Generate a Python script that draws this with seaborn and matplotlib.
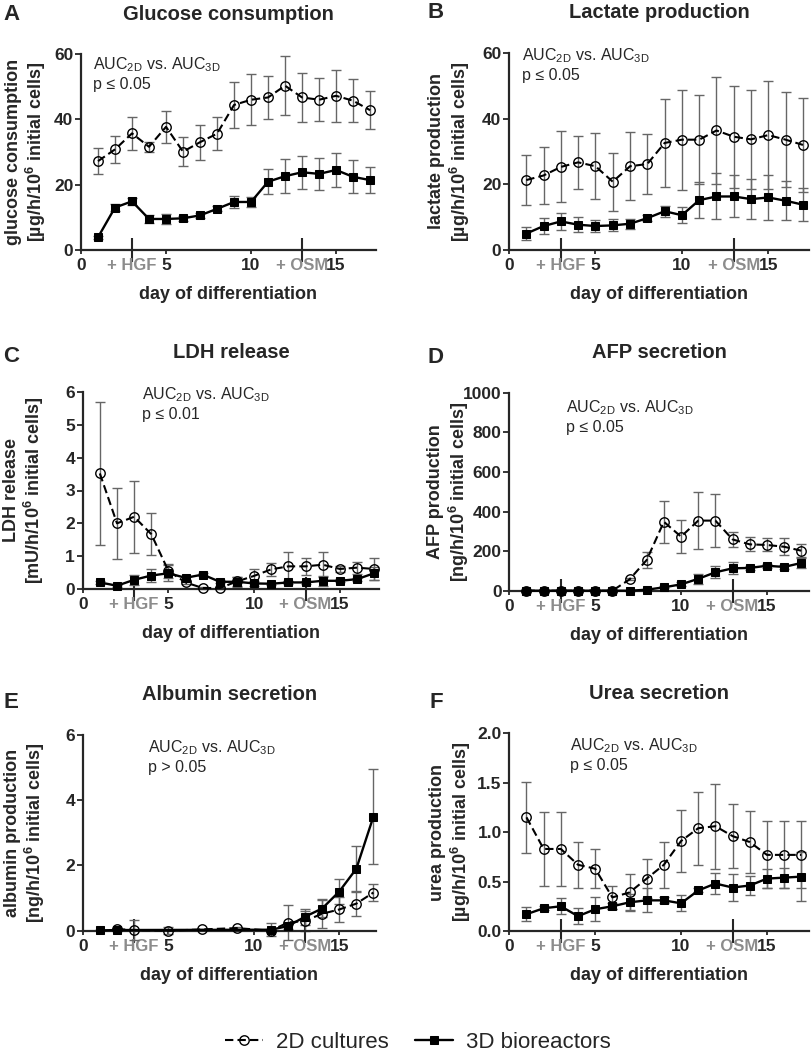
# six-panel metabolic time course (2D cultures vs 3D bioreactors)
import numpy as np
import pandas as pd
import matplotlib
matplotlib.use("Agg")
import matplotlib.pyplot as plt
from matplotlib.ticker import FormatStrFormatter
import seaborn as sns

days = list(range(1, 18))

glucose_2d = [27.2, 30.8, 35.7, 31.6, 37.7, 30.1, 33.0, 35.6, 44.4, 46.0, 46.7, 50.3, 46.7, 46.0, 47.2, 45.7, 42.8]
glucose_2d_sd = [4.0, 4.2, 5.0, 1.6, 5.0, 4.4, 5.4, 5.0, 7.0, 7.8, 6.7, 9.0, 7.5, 6.5, 8.0, 6.5, 5.9]
glucose_3d = [3.9, 13.0, 14.9, 9.5, 9.5, 9.7, 10.6, 12.6, 14.7, 14.7, 20.9, 22.6, 23.8, 23.3, 24.5, 22.4, 21.4]
glucose_3d_sd = [0.5, 1.0, 1.0, 1.3, 1.5, 0.8, 0.8, 0.8, 1.8, 1.5, 3.8, 5.2, 5.0, 4.8, 5.2, 5.0, 4.0]

lactate_2d = [21.3, 22.7, 25.3, 26.7, 25.5, 20.8, 25.5, 26.2, 32.6, 33.6, 33.6, 36.4, 34.5, 33.7, 35.0, 33.6, 32.0]
lactate_2d_sd = [7.6, 8.6, 10.8, 8.0, 10.0, 8.8, 10.3, 9.0, 13.4, 15.2, 13.6, 16.3, 15.5, 15.0, 16.5, 14.5, 14.3]
lactate_3d = [5.0, 7.3, 8.7, 7.7, 7.3, 7.5, 8.0, 9.7, 11.8, 10.6, 15.2, 16.3, 16.3, 15.5, 16.0, 15.0, 13.8]
lactate_3d_sd = [2.0, 2.3, 2.6, 2.2, 1.8, 1.8, 1.5, 1.0, 1.7, 2.5, 5.4, 7.0, 6.4, 6.2, 6.9, 6.0, 5.0]

ldh_2d = [3.52, 2.0, 2.2, 1.67, 0.55, 0.2, 0.03, 0.03, 0.23, 0.4, 0.6, 0.69, 0.69, 0.74, 0.61, 0.65, 0.61]
ldh_2d_sd = [2.17, 1.09, 1.1, 0.63, 0.2, 0.05, 0.02, 0.02, 0.15, 0.22, 0.2, 0.45, 0.25, 0.38, 0.1, 0.18, 0.33]
ldh_3d = [0.2, 0.1, 0.28, 0.41, 0.48, 0.34, 0.44, 0.22, 0.22, 0.17, 0.16, 0.2, 0.2, 0.25, 0.25, 0.3, 0.48]
ldh_3d_sd = [0.05, 0.03, 0.15, 0.2, 0.25, 0.07, 0.05, 0.05, 0.15, 0.08, 0.03, 0.05, 0.05, 0.15, 0.05, 0.05, 0.2]

afp_2d = [0, 0, 0, 0, 0, 0, 57, 155, 348, 273, 354, 354, 259, 234, 231, 222, 202]
afp_2d_sd = [0, 0, 0, 0, 0, 0, 5, 40, 107, 82, 143, 133, 39, 35, 33, 42, 34]
afp_3d = [0, 0, 0, 0, 0, 0, 0, 5, 17, 32, 60, 93, 113, 115, 126, 120, 140]
afp_3d_sd = [0, 0, 0, 0, 0, 0, 0, 2, 5, 10, 25, 30, 30, 12, 10, 8, 25]

albumin_2d_days = [2, 3, 5, 7, 9, 11, 12, 13, 14, 15, 16, 17]
albumin_2d = [0.05, 0.02, 0.0, 0.04, 0.08, 0.0, 0.25, 0.3, 0.52, 0.65, 0.83, 1.17]
albumin_2d_sd = [0.02, 0.3, 0.1, 0.02, 0.02, 0.0, 0.55, 0.3, 0.45, 0.38, 0.38, 0.25]
albumin_3d_days = [1, 2, 11, 12, 13, 14, 15, 16, 17]
albumin_3d = [0.01, 0.02, 0.03, 0.14, 0.43, 0.68, 1.2, 1.9, 3.5]
albumin_3d_sd = [0.0, 0.0, 0.2, 0.1, 0.25, 0.26, 0.37, 0.7, 1.47]

urea_2d = [1.15, 0.83, 0.83, 0.67, 0.63, 0.34, 0.39, 0.53, 0.67, 0.91, 1.04, 1.06, 0.96, 0.9, 0.77, 0.77, 0.77]
urea_2d_sd = [0.36, 0.37, 0.37, 0.23, 0.2, 0.12, 0.19, 0.2, 0.23, 0.31, 0.37, 0.43, 0.32, 0.31, 0.34, 0.34, 0.34]
urea_3d = [0.17, 0.23, 0.25, 0.15, 0.22, 0.25, 0.29, 0.31, 0.31, 0.28, 0.41, 0.48, 0.44, 0.46, 0.53, 0.54, 0.55]
urea_3d_sd = [0.07, 0.02, 0.08, 0.08, 0.12, 0.03, 0.08, 0.12, 0.03, 0.08, 0.02, 0.11, 0.14, 0.1, 0.1, 0.1, 0.25]

letters = ["A", "B", "C", "D", "E", "F"]
titles = ["Glucose consumption", "Lactate production", "LDH release",
          "AFP secretion", "Albumin secretion", "Urea secretion"]
ylabels = ["glucose consumption\n[µg/h/10$^{\\mathregular{6}}$ initial cells]",
           "lactate production\n[µg/h/10$^{\\mathregular{6}}$ initial cells]",
           "LDH release\n[mU/h/10$^{\\mathregular{6}}$ initial cells]",
           "AFP production\n[ng/h/10$^{\\mathregular{6}}$ initial cells]",
           "albumin production\n[ng/h/10$^{\\mathregular{6}}$ initial cells]",
           "urea production\n[µg/h/10$^{\\mathregular{6}}$ initial cells]"]
yticks = [[0, 20, 40, 60], [0, 20, 40, 60], [0, 1, 2, 3, 4, 5, 6],
          [0, 200, 400, 600, 800, 1000], [0, 2, 4, 6], [0.0, 0.5, 1.0, 1.5, 2.0]]
pvalues = ["p ≤ 0.05", "p ≤ 0.05", "p ≤ 0.01", "p ≤ 0.05", "p > 0.05", "p ≤ 0.05"]
xtick_days = [0, 5, 10, 15]
factor_days = [3, 13]
factor_labels = ["+ HGF", "+ OSM"]
legend_labels = ["2D cultures", "3D bioreactors"]

series = [
    (days, glucose_2d, glucose_2d_sd, days, glucose_3d, glucose_3d_sd),
    (days, lactate_2d, lactate_2d_sd, days, lactate_3d, lactate_3d_sd),
    (days, ldh_2d, ldh_2d_sd, days, ldh_3d, ldh_3d_sd),
    (days, afp_2d, afp_2d_sd, days, afp_3d, afp_3d_sd),
    (albumin_2d_days, albumin_2d, albumin_2d_sd, albumin_3d_days, albumin_3d, albumin_3d_sd),
    (days, urea_2d, urea_2d_sd, days, urea_3d, urea_3d_sd),
]

# layout in pixels: left, top, right, bottom of each plot area
W, H = 812, 1057
boxes = [(81, 54, 376, 250), (509, 53, 809, 250),
         (82.7, 392, 379.3, 589), (509.3, 392.7, 809, 590.7),
         (82.7, 735, 376, 930.7), (509.3, 733.3, 809, 931)]
xmax = [17.35, 17.35, 17.3, 17.45, 17.15, 17.45]
ylab_x = [-0.185, -0.198, -0.196, -0.202, -0.195, -0.195]
ann_xy = [(0.04, 0.995), (0.043, 1.032), (0.199, 1.035),
          (0.189, 0.972), (0.224, 0.983), (0.202, 0.983)]
letter_xy = [(11, 14), (436, 13), (11, 357), (436, 358), (11, 703), (436, 702)]

sns.set_style("ticks")
plt.rcParams["font.family"] = ["Liberation Sans", "DejaVu Sans"]
plt.rcParams["mathtext.default"] = "regular"

ERR = "#666666"

fig = plt.figure(figsize=(W / 100, H / 100), dpi=100)
handles = []

for i in range(6):
    l, t, r, b = boxes[i]
    ax = fig.add_axes([l / W, 1 - b / H, (r - l) / W, (b - t) / H])
    d2, v2, s2, d3, v3, s3 = series[i]

    ax.errorbar(d2, v2, yerr=s2, fmt="none", ecolor=ERR, elinewidth=1.0,
                capsize=3.5, capthick=1.0, zorder=2, clip_on=False)
    ax.errorbar(d3, v3, yerr=s3, fmt="none", ecolor=ERR, elinewidth=1.0,
                capsize=3.5, capthick=1.0, zorder=2, clip_on=False)

    df3 = pd.DataFrame({"day": d3, "value": v3})
    sns.lineplot(data=df3, x="day", y="value", ax=ax, color="black",
                 marker="s", markersize=6.2, markerfacecolor="black",
                 markeredgecolor="black", linewidth=1.7, errorbar=None,
                 clip_on=False, zorder=3)
    line3 = ax.lines[-1]
    df2 = pd.DataFrame({"day": d2, "value": v2})
    sns.lineplot(data=df2, x="day", y="value", ax=ax, color="black",
                 marker="o", markersize=6.8, markerfacecolor="none",
                 markeredgecolor="black", markeredgewidth=1.0,
                 linewidth=1.5, linestyle=(0, (4, 2)), errorbar=None,
                 clip_on=False, zorder=4)
    line2 = ax.lines[-1]
    if i == 0:
        handles = [line2, line3]

    ax.set_xlim(0, xmax[i])
    ax.set_ylim(yticks[i][0], yticks[i][-1])
    ax.set_yticks(yticks[i])
    if i == 5:
        ax.yaxis.set_major_formatter(FormatStrFormatter("%.1f"))
    ax.set_xticks(xtick_days)
    ax.set_xticks(factor_days, labels=factor_labels, minor=True)
    ax.tick_params(axis="x", which="major", direction="out", length=3, width=1.3,
                   labelsize=12.5, pad=3)
    ax.tick_params(axis="x", which="minor", direction="inout", length=17, width=1.5,
                   labelsize=12, pad=-2.5, labelcolor="#8c8c8c")
    ax.tick_params(axis="y", direction="out", length=4, width=1.3,
                   labelsize=12.5, pad=1.5)
    for lab in ax.get_xticklabels(which="both") + ax.get_yticklabels():
        lab.set_fontweight("bold")

    sns.despine(ax=ax)
    for sp in ["left", "bottom"]:
        ax.spines[sp].set_linewidth(1.6)

    ax.set_xlabel("day of differentiation", fontsize=13, fontweight="bold", labelpad=9)
    ax.set_ylabel(ylabels[i], fontsize=13, fontweight="bold", linespacing=1.15,
                  va="center", ha="center", multialignment="center")
    ax.yaxis.set_label_coords(ylab_x[i], 0.5)

    ax.set_title(titles[i], fontsize=14.5, fontweight="bold", pad=0,
                 y=1 + 40 / (b - t), va="center")
    ax.text(ann_xy[i][0], ann_xy[i][1],
            "AUC$_{2D}$ vs. AUC$_{3D}$\n" + pvalues[i],
            transform=ax.transAxes, ha="left", va="top", fontsize=11.5,
            linespacing=1.25)

    fig.text(letter_xy[i][0] / W, 1 - letter_xy[i][1] / H, letters[i],
             fontsize=16, fontweight="bold", ha="center", va="center")

fig.legend(handles, legend_labels, loc="center", bbox_to_anchor=(418 / W, 15 / H),
           ncol=2, frameon=False, fontsize=16, handlelength=1.7,
           handletextpad=0.6, columnspacing=1.2)

fig.savefig("out.png", dpi=100)
